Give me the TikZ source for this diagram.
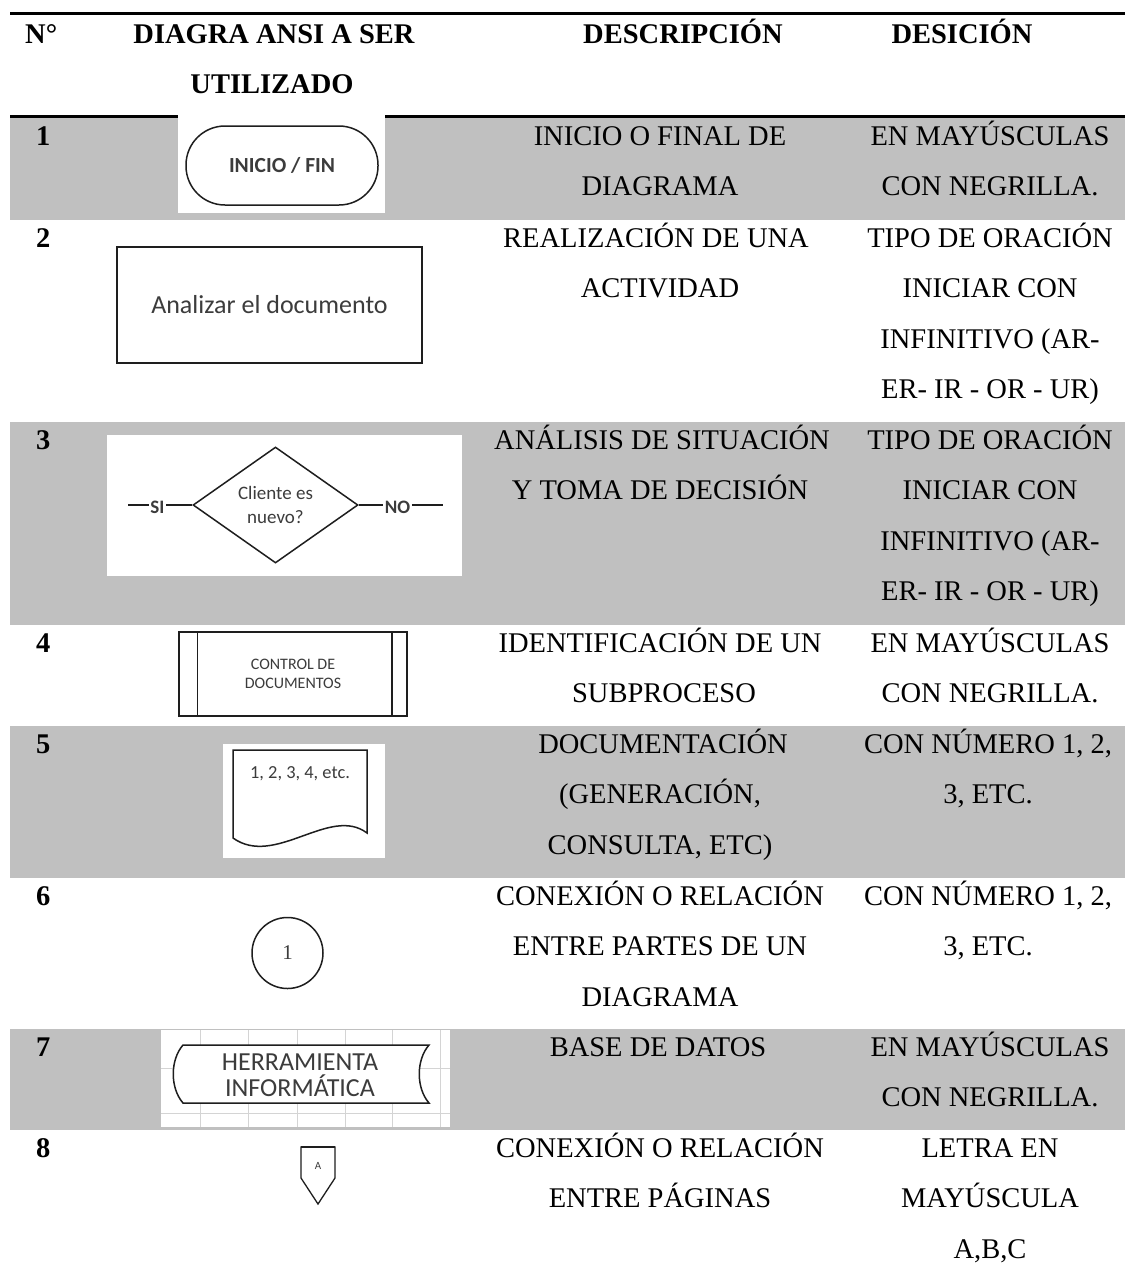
\documentclass[tikz,border=0pt]{standalone}
\usepackage{fontspec}
\setmainfont{Liberation Serif}
\newfontfamily\symfont{Carlito}
\usetikzlibrary{shapes.geometric}

\definecolor{rowgray}{RGB}{192,192,192}
\definecolor{ink}{RGB}{30,30,30}
\definecolor{symtext}{RGB}{60,60,60}
\definecolor{gridline}{RGB}{212,212,212}

\begin{document}
\begin{tikzpicture}[x=1pt,y=-1pt,
  cell/.style={anchor=base, inner sep=0pt, font=\fontsize{28.5}{30}\selectfont},
  hdr/.style={cell, font=\fontsize{28.5}{30}\selectfont\bfseries},
  num/.style={anchor=base west, inner sep=0pt, font=\fontsize{28.5}{30}\selectfont\bfseries},
  band/.style={fill=rowgray, draw=none},
  pic/.style={fill=white, draw=none},
  rule/.style={line width=2.6pt, black},
  sym/.style={draw=ink, line width=1.5pt, fill=white},
  symlabel/.style={inner sep=0pt, text=symtext, align=center}
]
\useasboundingbox (0,0) rectangle (1125,1278);
\fill[white] (0,0) rectangle (1125,1278);

% shaded rows
\fill[band] (10,118) rectangle (1125,220);
\fill[band] (10,422) rectangle (1125,625);
\fill[band] (10,726) rectangle (1125,878);
\fill[band] (10,1029) rectangle (1125,1130);

% rules
\draw[rule] (10,13.5) -- (1125,13.5);
\draw[rule] (10,116.5) -- (1125,116.5);

% header
\node[num] (hn) at (25,43) {N°};
\node[hdr] (hdiag) at (274,43) {DIAGRA ANSI A SER};
\node[hdr] (hdiag2) at (272,93.5) {UTILIZADO};
\node[hdr] (hdesc) at (683,43) {DESCRIPCIÓN};
\node[hdr] (hdec) at (962,43) {DESICIÓN};

% ---------- row 1: terminator
\fill[pic] (178,115) rectangle (385,213);
\node[num] (n1) at (36,145.4) {1};
\node[sym, rounded corners=39pt, minimum width=192pt, minimum height=79pt,
      inner sep=0pt, font=\symfont\fontsize{21.5}{24}\selectfont\bfseries, text=symtext]
      (term) at (282,165.5) {INICIO / FIN};
\node[cell] (d1a) at (660,145.4) {INICIO O FINAL DE};
\node[cell] (d1b) at (660,195.9) {DIAGRAMA};
\node[cell] (c1a) at (990,145.4) {EN MAYÚSCULAS};
\node[cell] (c1b) at (990,195.9) {CON NEGRILLA.};

% ---------- row 2: process
\node[num] (n2) at (36,247.4) {2};
\node[sym, minimum width=305pt, minimum height=116pt, inner sep=0pt,
      font=\symfont\fontsize{26}{28}\selectfont, text=symtext]
      (proc) at (269.5,305) {Analizar el documento};
\node[cell] (d2a) at (656,247.4) {REALIZACIÓN DE UNA};
\node[cell] (d2b) at (660,297.9) {ACTIVIDAD};
\node[cell] (c2a) at (990,247.4) {TIPO DE ORACIÓN};
\node[cell] (c2b) at (990,297.9) {INICIAR CON};
\node[cell] (c2c) at (990,348.4) {INFINITIVO (AR-};
\node[cell] (c2d) at (990,398.9) {ER- IR - OR - UR)};

% ---------- row 3: decision
\fill[pic] (107,435) rectangle (462,576);
\node[num] (n3) at (36,449.4) {3};
\node[sym, diamond, minimum width=165pt, minimum height=116pt, inner sep=0pt]
      (dec) at (275.5,505) {};
\node[symlabel, font=\symfont\fontsize{19}{24}\selectfont] (dectext) at (dec) {Cliente es\\nuevo?};
\node[symlabel, font=\symfont\fontsize{19}{20}\selectfont\bfseries, inner xsep=1.5pt] (si) at (157.5,507) {SI};
\node[symlabel, font=\symfont\fontsize{19}{20}\selectfont\bfseries, inner xsep=1.5pt] (no) at (397.5,507) {NO};
\coordinate (siend) at (128,505);
\coordinate (noend) at (443,505);
\draw[ink, line width=1.5pt] (siend) -- (si.west |- siend);
\draw[ink, line width=1.5pt] (si.east |- siend) -- (dec.west);
\draw[ink, line width=1.5pt] (dec.east) -- (no.west |- noend);
\draw[ink, line width=1.5pt] (no.east |- noend) -- (noend);
\node[cell] (d3a) at (662,449.4) {ANÁLISIS DE SITUACIÓN};
\node[cell] (d3b) at (660,499.9) {Y TOMA DE DECISIÓN};
\node[cell] (c3a) at (990,449.4) {TIPO DE ORACIÓN};
\node[cell] (c3b) at (990,499.9) {INICIAR CON};
\node[cell] (c3c) at (990,550.4) {INFINITIVO (AR-};
\node[cell] (c3d) at (990,600.9) {ER- IR - OR - UR)};

% ---------- row 4: predefined process
\node[num] (n4) at (36,652.4) {4};
\node[sym, minimum width=228pt, minimum height=84pt, inner sep=0pt]
      (sub) at (293,674) {};
\draw[ink, line width=1.5pt] ([xshift=19pt]sub.north west) -- ([xshift=19pt]sub.south west);
\draw[ink, line width=1.5pt] ([xshift=-16pt]sub.north east) -- ([xshift=-16pt]sub.south east);
\node[symlabel, font=\symfont\fontsize{16}{19}\selectfont] (subtext) at (293,673.5) {CONTROL DE\\DOCUMENTOS};
\node[cell] (d4a) at (660,652.4) {IDENTIFICACIÓN DE UN};
\node[cell] (d4b) at (664,702.9) {SUBPROCESO};
\node[cell] (c4a) at (990,652.4) {EN MAYÚSCULAS};
\node[cell] (c4b) at (990,702.9) {CON NEGRILLA.};

% ---------- row 5: document
\fill[pic] (223,744) rectangle (385,858);
\node[num] (n5) at (36,753.4) {5};
\draw[sym] (233,750) -- (367,750) -- (367,833)
      .. controls (330,805) and (275,868) .. (233,838) -- cycle;
\node[symlabel, font=\symfont\fontsize{18.4}{20}\selectfont] (doctext) at (300,774) {1, 2, 3, 4, etc.};
\node[cell] (d5a) at (663,753.4) {DOCUMENTACIÓN};
\node[cell] (d5b) at (660,803.9) {(GENERACIÓN,};
\node[cell] (d5c) at (660,854.4) {CONSULTA, ETC)};
\node[cell] (c5a) at (988,753.4) {CON NÚMERO 1, 2,};
\node[cell] (c5b) at (988,803.9) {3, ETC.};

% ---------- row 6: on-page connector
\node[num] (n6) at (36,905.4) {6};
\node[sym, circle, minimum size=71pt, inner sep=0pt,
      font=\fontsize{21}{22}\selectfont, text=symtext] (conn) at (287.5,953) {1};
\node[cell] (d6a) at (660,905.4) {CONEXIÓN O RELACIÓN};
\node[cell] (d6b) at (660,955.9) {ENTRE PARTES DE UN};
\node[cell] (d6c) at (660,1006.4) {DIAGRAMA};
\node[cell] (c6a) at (988,905.4) {CON NÚMERO 1, 2,};
\node[cell] (c6b) at (988,955.9) {3, ETC.};

% ---------- row 7: stored data over a grid
\fill[pic] (161,1030) rectangle (450,1127);
\foreach \gx in {200,248,297,345,392,440}
  \draw[gridline, line width=1pt] (\gx,1030) -- (\gx,1127);
\foreach \gy in {1068,1113}
  \draw[gridline, line width=1pt] (161,\gy) -- (450,\gy);
\node[num] (n7) at (36,1056.4) {7};
\draw[sym] (183,1045) -- (429,1045)
      .. controls (416,1060) and (416,1088) .. (429,1103)
      -- (183,1103)
      .. controls (170,1088) and (170,1060) .. cycle;
\node[symlabel, font=\symfont\fontsize{26}{26}\selectfont] (dbtext) at (300,1075) {HERRAMIENTA\\INFORMÁTICA};
\node[cell] (d7a) at (658,1056.4) {BASE DE DATOS};
\node[cell] (c7a) at (990,1056.4) {EN MAYÚSCULAS};
\node[cell] (c7b) at (990,1106.9) {CON NEGRILLA.};

% ---------- row 8: off-page connector
\node[num] (n8) at (36,1157.4) {8};
\draw[ink, line width=1.3pt, fill=white] (301,1147) -- (335,1147) -- (335,1178)
      -- (318,1204) -- (301,1178) -- cycle;
\draw[ink, line width=2.4pt] (301,1147) -- (335,1147);
\node[symlabel, font=\symfont\fontsize{11}{12}\selectfont] (offtext) at (318,1166) {A};
\node[cell] (d8a) at (660,1157.4) {CONEXIÓN O RELACIÓN};
\node[cell] (d8b) at (660,1207.9) {ENTRE PÁGINAS};
\node[cell] (c8a) at (990,1157.4) {LETRA EN};
\node[cell] (c8b) at (990,1207.9) {MAYÚSCULA};
\node[cell] (c8c) at (990,1258.4) {A,B,C};
\end{tikzpicture}
\end{document}
